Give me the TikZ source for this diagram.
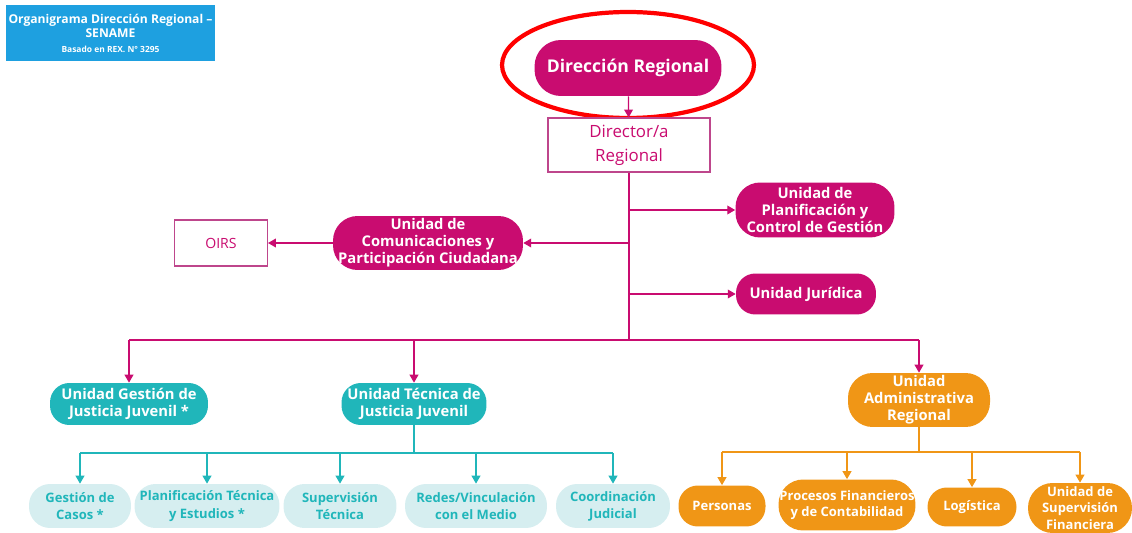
\documentclass[tikz,border=0pt]{standalone}
\usepackage{fontspec}
\setmainfont{Open Sans}
\usetikzlibrary{arrows.meta}
\definecolor{magenta}{RGB}{201,12,112}
\definecolor{rosa}{RGB}{190,70,140}
\definecolor{turq}{RGB}{32,182,186}
\definecolor{turqclaro}{RGB}{214,238,240}
\definecolor{naranja}{RGB}{240,150,22}
\definecolor{celeste}{RGB}{30,160,224}
\begin{document}
\begin{tikzpicture}[x=0.02cm, y=-0.02cm,
    pill/.style={fill=magenta, text=white, font=\fontsize{8.4}{9.6}\selectfont\bfseries,
        rounded corners=14pt, align=center, inner sep=0pt},
    caja/.style={draw=rosa, line width=0.6pt, fill=white, text=magenta, align=center},
    tpill/.style={fill=turqclaro, text=turq, font=\fontsize{7.4}{9.8}\selectfont\bfseries,
        rounded corners=12pt, align=center, inner sep=0pt, minimum height=0.88cm},
    opill/.style={fill=naranja, text=white, font=\fontsize{7.4}{9.2}\selectfont\bfseries,
        rounded corners=11pt, align=center, inner sep=0pt},
    flecha/.style={-{Triangle[width=5pt,length=4.5pt]}, line width=0.7pt},
    linea/.style={line width=0.7pt}]
    \useasboundingbox (0,0) rectangle (1132,533);
    % titulo
    \node[fill=celeste, text=white, align=center, minimum width=4.18cm, minimum height=1.12cm,
        inner sep=1pt, font=\fontsize{6.9}{8}\selectfont\bfseries] (titulo) at (110.5,33)
        {Organigrama Dirección Regional –\\SENAME\\[0.6pt]
         {\fontsize{4.8}{6}\selectfont Basado en REX. N° 3295}};
    % nivel superior
    \node[pill, minimum width=3.74cm, minimum height=1.12cm, rounded corners=15pt,
        font=\fontsize{10}{11}\selectfont\bfseries] (dirreg) at (628,68) {Dirección Regional};
    \draw[red, line width=2.4pt] (628,65) ellipse [x radius=2.52cm, y radius=1.06cm];
    \node[caja, minimum width=3.24cm, minimum height=1.08cm,
        font=\fontsize{9.6}{13.5}\selectfont] (director) at (629,145) {Director/a\\Regional};
    \draw[flecha, magenta] (dirreg) -- (director);
    % staff
    \node[pill, minimum width=3.18cm, minimum height=1.1cm] (plan) at (815,210)
        {Unidad de\\Planificación y\\Control de Gestión};
    \node[pill, minimum width=3.8cm, minimum height=1.08cm] (comu) at (428,243)
        {Unidad de\\Comunicaciones y\\Participación Ciudadana};
    \node[caja, minimum width=1.86cm, minimum height=0.92cm,
        font=\fontsize{8}{10}\selectfont] (oirs) at (221,243) {OIRS};
    \node[pill, minimum width=2.8cm, minimum height=0.82cm, rounded corners=11pt] (jur)
        at (806,294) {Unidad Jurídica};
    \coordinate (b1) at (629,210);
    \coordinate (b2) at (629,243);
    \coordinate (b3) at (629,294);
    \coordinate (bus) at (629,340);
    \draw[linea, magenta] (director) -- (bus);
    \draw[flecha, magenta] (b1) -- (plan);
    \draw[flecha, magenta] (b2) -- (comu);
    \draw[flecha, magenta] (b3) -- (jur);
    \draw[flecha, magenta] (comu) -- (oirs);
    % unidades
    \node[pill, fill=turq, minimum width=3.16cm, minimum height=0.84cm, rounded corners=11pt]
        (gest) at (129,404) {Unidad Gestión de\\Justicia Juvenil *};
    \node[pill, fill=turq, minimum width=2.9cm, minimum height=0.84cm, rounded corners=11pt]
        (tec) at (414,404) {Unidad Técnica de\\Justicia Juvenil};
    \node[pill, fill=naranja, minimum width=2.84cm, minimum height=1.08cm] (adm) at (919,400)
        {Unidad\\Administrativa\\Regional};
    \draw[linea, magenta] (gest |- bus) -- (adm |- bus);
    \foreach \u in {gest, tec, adm}
        \draw[flecha, magenta] (\u |- bus) -- (\u);
    % area tecnica
    \node[tpill, minimum width=2.04cm] (casos) at (80,506) {Gestión de\\Casos *};
    \node[tpill, minimum width=2.9cm] (ptec) at (207,506) {Planificación Técnica\\y Estudios *};
    \node[tpill, minimum width=2.26cm] (sup) at (340,506) {Supervisión\\Técnica};
    \node[tpill, minimum width=2.84cm] (redes) at (476,506) {Redes/Vinculación\\con el Medio};
    \node[tpill, minimum width=2.28cm] (coord) at (613,506) {Coordinación\\Judicial};
    \coordinate (tbus) at (414,453);
    \draw[linea, turq] (tec) -- (tbus);
    \draw[linea, turq] (casos |- tbus) -- (coord |- tbus);
    \foreach \u in {casos, ptec, sup, redes, coord}
        \draw[flecha, turq] (\u |- tbus) -- (\u);
    % area administrativa
    \node[opill, minimum width=1.74cm, minimum height=0.82cm] (pers) at (722,506) {Personas};
    \node[opill, minimum width=2.74cm, minimum height=1.02cm, rounded corners=14pt] (proc)
        at (847,505) {Procesos Financieros\\y de Contabilidad};
    \node[opill, minimum width=1.78cm, minimum height=0.78cm] (logi) at (972,507) {Logística};
    \node[opill, minimum width=2.08cm, minimum height=1cm, rounded corners=14pt] (usup)
        at (1080,508) {Unidad de\\Supervisión\\Financiera};
    \coordinate (obus) at (919,452);
    \draw[linea, naranja] (adm) -- (obus);
    \draw[linea, naranja] (pers |- obus) -- (usup |- obus);
    \foreach \u in {pers, proc, logi, usup}
        \draw[flecha, naranja] (\u |- obus) -- (\u);
\end{tikzpicture}
\end{document}
